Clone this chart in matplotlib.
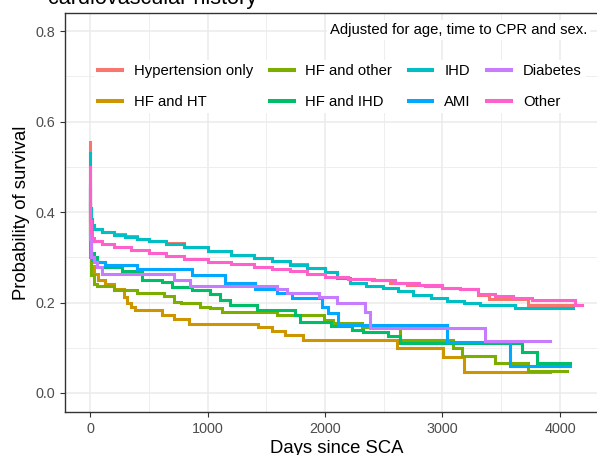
import matplotlib
matplotlib.use('Agg')
import matplotlib.pyplot as plt
from matplotlib.ticker import MultipleLocator

plt.rcParams['font.family'] = ['Liberation Sans', 'DejaVu Sans']

# Groups in factor order, with ggplot default hue colours.
groups = ['Hypertension only', 'HF and HT', 'HF and other', 'HF and IHD',
          'IHD', 'AMI', 'Diabetes', 'Other']
colors = ['#F8766D', '#CD9600', '#7CAE00', '#00BE67',
          '#00BFC4', '#00A9FF', '#C77CFF', '#FF61CC']

# Adjusted survival step curves (days, probability).
ht_days = [0, 1, 3, 7, 15, 30, 100, 200, 300, 400, 500, 650, 800, 1000, 1200, 1400,
           1550, 1700, 1850, 2000, 2100, 2200, 2420, 2550, 2700, 2850, 3000, 3150,
           3305, 3400, 3730, 4184]
ht_surv = [0.555, 0.47, 0.41, 0.385, 0.372, 0.362, 0.356, 0.351, 0.346, 0.341, 0.336,
           0.331, 0.323, 0.314, 0.306, 0.299, 0.292, 0.285, 0.277, 0.268, 0.257, 0.252,
           0.249, 0.244, 0.239, 0.236, 0.232, 0.229, 0.217, 0.207, 0.195, 0.195]

hfht_days = [0, 3, 10, 30, 70, 130, 201, 288, 316, 350, 386, 613, 712, 839, 1433, 1546,
             1660, 1816, 2610, 3007, 3183, 3915]
hfht_surv = [0.42, 0.32, 0.28, 0.264, 0.25, 0.24, 0.231, 0.213, 0.198, 0.19, 0.183, 0.172,
             0.163, 0.152, 0.147, 0.138, 0.128, 0.117, 0.099, 0.08, 0.047, 0.047]

hfother_days = [0, 3, 10, 30, 60, 201, 404, 631, 716, 776, 939, 1020, 1121, 1589, 1990,
                2070, 2312, 2638, 3092, 3163, 3447, 3730, 4062]
hfother_surv = [0.42, 0.30, 0.26, 0.242, 0.237, 0.228, 0.22, 0.215, 0.202, 0.199, 0.191,
                0.187, 0.18, 0.172, 0.161, 0.154, 0.147, 0.117, 0.099, 0.082, 0.066,
                0.049, 0.049]

hfihd_days = [0, 3, 10, 30, 60, 130, 270, 443, 613, 698, 868, 1025, 1110, 1191, 1418,
              1745, 1787, 1986, 2050, 2227, 2325, 2537, 2638, 3674, 3801, 4085]
hfihd_surv = [0.45, 0.34, 0.31, 0.301, 0.29, 0.279, 0.27, 0.25, 0.245, 0.235, 0.228,
              0.219, 0.205, 0.194, 0.183, 0.172, 0.158, 0.157, 0.148, 0.139, 0.135,
              0.126, 0.111, 0.091, 0.067, 0.067]

ihd_days = [0, 1, 3, 7, 15, 30, 100, 200, 300, 400, 500, 650, 800, 1000, 1200, 1400,
            1550, 1700, 1850, 2000, 2100, 2213, 2350, 2497, 2620, 2750, 2900, 3035,
            3180, 3320, 3617, 4107]
ihd_surv = [0.53, 0.46, 0.41, 0.385, 0.372, 0.362, 0.355, 0.349, 0.344, 0.34, 0.335,
            0.33, 0.322, 0.313, 0.305, 0.298, 0.291, 0.284, 0.276, 0.267, 0.255, 0.243,
            0.237, 0.232, 0.225, 0.217, 0.21, 0.204, 0.198, 0.194, 0.187, 0.187]

ami_days = [0, 3, 10, 20, 40, 128, 400, 868, 1149, 1404, 1589, 1716, 1972, 2028, 2113,
            3036, 3574, 4085]
ami_surv = [0.46, 0.35, 0.31, 0.295, 0.29, 0.283, 0.275, 0.261, 0.244, 0.231, 0.22,
            0.209, 0.19, 0.176, 0.15, 0.113, 0.06, 0.06]

diab_days = [0, 3, 10, 30, 60, 102, 712, 854, 1589, 1674, 1950, 2099, 2340, 2383,
             3362, 3915]
diab_surv = [0.45, 0.34, 0.30, 0.29, 0.278, 0.264, 0.25, 0.237, 0.229, 0.22, 0.213,
             0.199, 0.18, 0.143, 0.116, 0.116]

other_days = [0, 1, 3, 7, 15, 30, 100, 200, 350, 500, 650, 800, 1000, 1200, 1400, 1550,
              1700, 1850, 2000, 2200, 2400, 2600, 2800, 3000, 3150, 3305, 3450, 3600,
              3760, 4128, 4184]
other_surv = [0.50, 0.43, 0.38, 0.355, 0.342, 0.336, 0.33, 0.323, 0.316, 0.309, 0.303,
              0.297, 0.29, 0.285, 0.279, 0.275, 0.27, 0.263, 0.257, 0.253, 0.249, 0.243,
              0.238, 0.233, 0.229, 0.219, 0.214, 0.21, 0.206, 0.195, 0.195]

all_days = [ht_days, hfht_days, hfother_days, hfihd_days, ihd_days, ami_days, diab_days, other_days]
all_surv = [ht_surv, hfht_surv, hfother_surv, hfihd_surv, ihd_surv, ami_surv, diab_surv, other_surv]

x_ticks = [0, 1000, 2000, 3000, 4000]
y_ticks = [0.0, 0.2, 0.4, 0.6, 0.8]

W, H = 597, 455
fig = plt.figure(figsize=(W / 100, H / 100), dpi=100)
ax = fig.add_axes([65 / W, 1 - 412 / H, (608 - 65) / W, (412 - 13) / H])

for d, s, g, c in zip(all_days, all_surv, groups, colors):
    ax.step(d, s, where='post', color=c, lw=2.2, label=g, solid_joinstyle='miter')

ax.set_xlim(-213, 4409)
ax.set_ylim(-0.042, 0.84)
ax.set_xticks(x_ticks)
ax.set_yticks(y_ticks)
ax.set_yticklabels(['%.1f' % v for v in y_ticks])
ax.xaxis.set_minor_locator(MultipleLocator(500))
ax.yaxis.set_minor_locator(MultipleLocator(0.1))
ax.grid(which='major', color='#EBEBEB', lw=1.1)
ax.grid(which='minor', color='#EBEBEB', lw=0.6)
ax.set_axisbelow(True)
ax.tick_params(which='major', length=3.5, width=0.8, color='#333333',
               labelsize=10.4, labelcolor='#4D4D4D')
ax.tick_params(which='minor', length=0)
for sp in ax.spines.values():
    sp.set_color('#333333')
    sp.set_linewidth(1.0)

ax.set_xlabel('Days since SCA', fontsize=13.3, labelpad=3)
ax.set_ylabel('Probability of survival', fontsize=13.3, labelpad=4)

leg = ax.legend(loc='upper left', bbox_to_anchor=(94 / W, 1 - 60 / H),
                bbox_transform=fig.transFigure, ncol=4, fontsize=10.7,
                handlelength=1.6, handletextpad=0.8, columnspacing=1.1,
                labelspacing=1.1, borderpad=0.3, borderaxespad=0,
                frameon=True, fancybox=False)
leg.get_frame().set_facecolor('white')
leg.get_frame().set_edgecolor('none')
leg.get_frame().set_alpha(1)
for line in leg.get_lines():
    line.set_linewidth(2.9)

fig.text(587 / W, 1 - 30 / H, 'Adjusted for age, time to CPR and sex.',
         ha='right', va='center', fontsize=10.7,
         bbox=dict(facecolor='white', edgecolor='none', pad=2))

fig.text(48 / W, 1 - 4 / H, 'cardiovascular history', ha='left', va='baseline',
         fontsize=15.6)

fig.savefig('out.png', dpi=100)
